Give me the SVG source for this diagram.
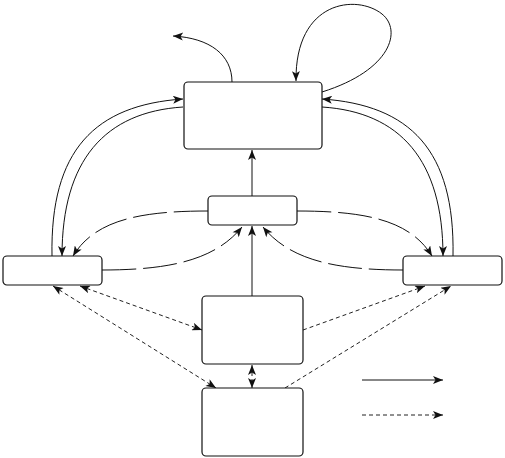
<svg xmlns="http://www.w3.org/2000/svg" width="505" height="458" viewBox="0 0 505 458">
<defs>
<marker id="ah" viewBox="0 0 10 8" refX="10" refY="4" markerWidth="11" markerHeight="8" markerUnits="userSpaceOnUse" orient="auto-start-reverse">
<path d="M0,0 L10,4 L0,8 L2.5,4 Z" fill="#111"/>
</marker>
</defs>
<style>
.node{fill:#fff;stroke:#111;stroke-width:1.2}
.c{fill:none;stroke:#111;stroke-width:1}
.ld{fill:none;stroke:#111;stroke-width:1;stroke-dasharray:34 7}
.sd{fill:none;stroke:#222;stroke-width:1;stroke-dasharray:4 3}
</style>
<g id="connectors">
<path class="c" d="M232,82 C232,55 210,38 173,36" marker-end="url(#ah)"/>
<path class="c" d="M322,92 C392,70 402,30 382,14 C357,-6 295,0 296,81" marker-end="url(#ah)"/>
<path class="c" d="M252,196 L252,150" marker-end="url(#ah)"/>
<path class="c" d="M252,296 L252,226" marker-end="url(#ah)"/>
<path class="c" d="M52,256 C50,150 95,105 183,99" marker-end="url(#ah)"/>
<path class="c" d="M183,107 C105,112 62,160 62,256" marker-end="url(#ah)"/>
<path class="c" d="M453,256 C455,150 410,105 322,99" marker-end="url(#ah)"/>
<path class="c" d="M322,107 C400,112 443,160 443,256" marker-end="url(#ah)"/>
<path class="ld" d="M208,211 C140,211 95,220 73,256" marker-end="url(#ah)"/>
<path class="ld" d="M102,270 C170,270 215,260 242,227" marker-end="url(#ah)"/>
<path class="ld" d="M297,211 C365,211 410,220 432,256" marker-end="url(#ah)"/>
<path class="ld" d="M403,270 C335,270 290,260 263,227" marker-end="url(#ah)"/>
<path class="sd" d="M53,286 L216,388" marker-start="url(#ah)" marker-end="url(#ah)"/>
<path class="sd" d="M80,286 L202,330" marker-start="url(#ah)" marker-end="url(#ah)"/>
<path class="sd" d="M303,330 L425,286" marker-end="url(#ah)"/>
<path class="sd" d="M285,388 L451,286" marker-end="url(#ah)"/>
<path class="sd" d="M252,365 L252,388" marker-start="url(#ah)" marker-end="url(#ah)"/>
<path class="c" d="M362,380 L443,380" marker-end="url(#ah)"/>
<path class="sd" d="M362,415 L443,415" marker-end="url(#ah)"/>
</g>
<g id="node-top"><rect class="node" x="184" y="82" width="138" height="67" rx="4"/></g>
<g id="node-middle"><rect class="node" x="208" y="196" width="89" height="29" rx="4"/></g>
<g id="node-left"><rect class="node" x="3" y="256" width="99" height="29" rx="4"/></g>
<g id="node-right"><rect class="node" x="403" y="256" width="99" height="29" rx="4"/></g>
<g id="node-center"><rect class="node" x="202" y="296" width="101" height="68" rx="4"/></g>
<g id="node-bottom"><rect class="node" x="202" y="388" width="101" height="68" rx="4"/></g>
</svg>
